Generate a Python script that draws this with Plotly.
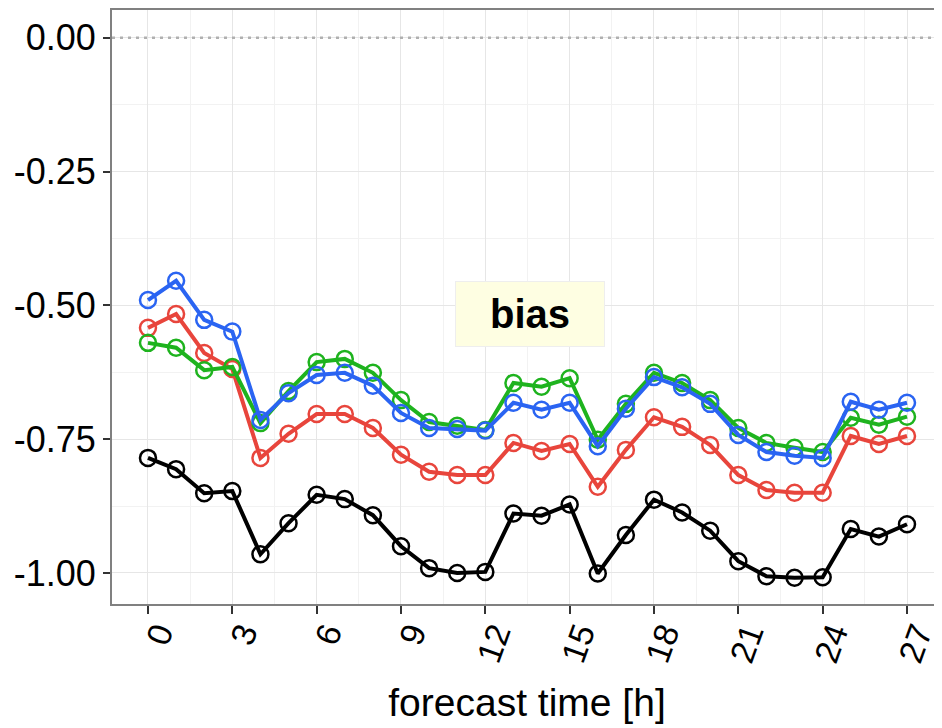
import plotly.graph_objects as go

hours = list(range(28))
black = [-0.785, -0.806, -0.851, -0.847, -0.965, -0.907, -0.854, -0.862, -0.892, -0.950,
         -0.991, -1.000, -0.998, -0.889, -0.893, -0.872, -1.001, -0.929, -0.863, -0.887,
         -0.921, -0.978, -1.006, -1.009, -1.008, -0.918, -0.932, -0.909]
red = [-0.542, -0.516, -0.589, -0.619, -0.785, -0.740, -0.703, -0.703, -0.729, -0.779,
       -0.811, -0.817, -0.817, -0.757, -0.772, -0.759, -0.839, -0.770, -0.709, -0.727,
       -0.761, -0.817, -0.845, -0.850, -0.850, -0.744, -0.759, -0.744]
green = [-0.570, -0.579, -0.621, -0.615, -0.720, -0.660, -0.606, -0.600, -0.626, -0.677,
         -0.718, -0.725, -0.733, -0.645, -0.652, -0.636, -0.751, -0.684, -0.626, -0.645,
         -0.677, -0.729, -0.757, -0.766, -0.774, -0.710, -0.723, -0.708]
blue = [-0.490, -0.454, -0.527, -0.549, -0.714, -0.664, -0.630, -0.626, -0.650, -0.701,
        -0.729, -0.731, -0.734, -0.682, -0.695, -0.682, -0.763, -0.693, -0.634, -0.653,
        -0.684, -0.742, -0.774, -0.781, -0.785, -0.680, -0.695, -0.682]

x_ticks = [0, 3, 6, 9, 12, 15, 18, 21, 24, 27]
y_ticks = [0.0, -0.25, -0.5, -0.75, -1.0]
y_ticktext = ["0.00", "-0.25", "-0.50", "-0.75", "-1.00"]

series = [("black", black, "#000000"), ("red", red, "#E8453C"),
          ("green", green, "#1EB31E"), ("blue", blue, "#2A64F2")]

fig = go.Figure()
for name, vals, col in series:
    fig.add_trace(go.Scatter(
        x=hours, y=vals, mode="lines+markers", name=name,
        line=dict(color=col, width=4),
        marker=dict(symbol="circle-open", size=16, color=col, line=dict(width=2.5, color=col)),
        showlegend=False))

font_family = "Liberation Sans, Arial, sans-serif"
fig.update_layout(
    width=934, height=720,
    margin=dict(l=104, r=0, t=2, b=124),
    paper_bgcolor="white", plot_bgcolor="white",
    font=dict(family=font_family, color="black"),
    xaxis=dict(
        range=[-1.28, 28.245], tickvals=x_ticks, tickangle=-70,
        tickfont=dict(size=34, color="black"), automargin=False,
        ticklabelstandoff=-14, ticklabelshift=10,
        ticks="outside", ticklen=8, tickwidth=2, tickcolor="#333333",
        showline=True, linecolor="#808080", linewidth=2, mirror=True,
        showgrid=True, gridcolor="#E6E6E6", gridwidth=1,
        minor=dict(dtick=1.5, tick0=0, showgrid=True, gridcolor="#F2F2F2", gridwidth=1),
        zeroline=False,
        title=dict(text="forecast time [h]", font=dict(size=39, color="black"), standoff=22),
    ),
    yaxis=dict(
        range=[-1.058, 0.052], tickvals=y_ticks, ticktext=y_ticktext,
        tickfont=dict(size=36, color="black"), automargin=False,
        ticks="outside", ticklen=7, tickwidth=2, tickcolor="#333333",
        showline=True, linecolor="#808080", linewidth=2, mirror=False,
        showgrid=True, gridcolor="#E6E6E6", gridwidth=1,
        minor=dict(dtick=0.125, tick0=0, showgrid=True, gridcolor="#F2F2F2", gridwidth=1),
        zeroline=False,
    ),
    shapes=[
        dict(type="line", xref="paper", yref="y", x0=0, x1=1, y0=0, y1=0,
             line=dict(color="#B0B0B0", width=2.5, dash="3px,5px"), layer="above"),
        dict(type="rect", xref="paper", yref="paper", x0=0.9952, x1=1.2, y0=0.0286, y1=0.419,
             fillcolor="#FFFFE6", line=dict(color="#EEEEC8", width=1)),
    ],
    annotations=[
        dict(x=13.6, y=-0.516, xref="x", yref="y", text="<b>bias</b>", showarrow=False,
             font=dict(size=40, color="black", family=font_family),
             bgcolor="#FEFEE2", bordercolor="#EEEEEE", borderwidth=1, borderpad=4,
             width=140, height=56),
    ],
)

fig.write_html("out.html")
